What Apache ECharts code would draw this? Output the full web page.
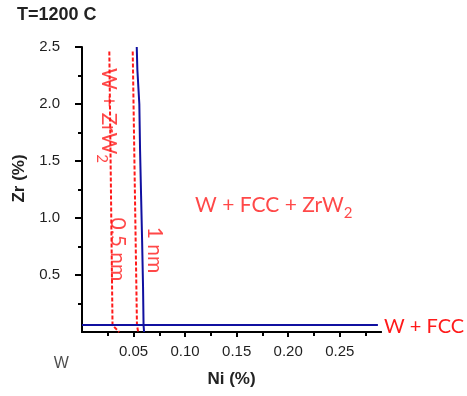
<!DOCTYPE html>
<html><head><meta charset="utf-8">
<script src="https://cdn.jsdelivr.net/npm/echarts@6/dist/echarts.min.js"></script>
<style>html,body{margin:0;padding:0;background:#fff}#c{width:467px;height:396px}</style>
</head><body><div id="c"></div>
<script>
// Tick labels
const xTickValues = [0.05, 0.10, 0.15, 0.20, 0.25];
const yTickValues = [0.5, 1.0, 1.5, 2.0, 2.5];
// Phase boundaries [Ni %, Zr %]
const boundary1nm = [[0.0531,2.5],[0.0537,2.3],[0.0556,2.0],[0.0563,1.6],[0.0573,1.2],[0.0583,0.8],[0.0592,0.4],[0.0597,0.06],[0.0602,0]];
const boundaryFCC = [[0,0.061],[0.287,0.061]];
const boundaryZrW2 = [[0.0265,2.46],[0.0296,0.06],[0.036,0]];
const boundary05nm = [[0.0492,2.46],[0.0533,0.06],[0.0545,0]];
// Annotation texts and anchor points (data coordinates)
const annoTexts = ['{a|W + ZrW}{s|2}', '{a|0.5 nm}', '{a|1 nm}', '{a|W + FCC + ZrW}{s|2}'];
const annoPoints = [[0.0262,1.90],[0.0345,0.724],[0.0709,0.719],[0.186,1.11]];
const annoRotate = [-90,-90,-90,0];
const originLabel = 'W';
const originPoint = [-0.02,-0.276];

const RED = '#ff1a1a', BLUE = '#1010a0', AX = '#000';
const rich = {
  a:{fontFamily:'Lato',fontSize:21,color:RED,lineHeight:30,verticalAlign:'middle'},
  s:{fontFamily:'Lato',fontSize:15,color:RED,lineHeight:30,verticalAlign:'bottom'}
};
const chart = echarts.init(document.getElementById('c'));
const lineS = (data, color, dashed) => ({
  type:'line', data, symbol:'none', silent:true, clip:false,
  lineStyle:{color, width:2, type: dashed ? [4,2] : 'solid'}
});
chart.setOption({
  animation:false,
  title:{text:'T=1200 C',left:17,top:6,padding:0,
    textStyle:{fontFamily:'Liberation Sans',fontSize:18,fontWeight:'bold',color:'#222'}},
  grid:{left:82,right:86,top:47,bottom:64},
  xAxis:[{
    type:'value',min:0,max:0.29,interval:0.05,
    name:'Ni (%)',nameLocation:'middle',nameGap:39,
    nameTextStyle:{fontFamily:'Liberation Sans',fontSize:17,fontWeight:'bold',color:'#222'},
    axisLine:{show:true,onZero:false,lineStyle:{color:AX,width:2}},
    axisTick:{show:true,length:5,lineStyle:{color:AX,width:2},customValues:xTickValues},
    minorTick:{show:true,splitNumber:2,length:4,lineStyle:{color:AX,width:2}},
    axisLabel:{customValues:xTickValues,margin:12,fontFamily:'Liberation Sans',fontSize:15,color:'#1f1f1f',
      formatter:v=>v.toFixed(2)},
    splitLine:{show:false}
  },{
    type:'value',position:'top',min:0,max:0.29,
    axisLine:{show:true,lineStyle:{color:AX,width:2}},
    axisTick:{show:false},axisLabel:{show:false},splitLine:{show:false}
  }],
  yAxis:{
    type:'value',min:0,max:2.5,interval:0.5,
    name:'Zr (%)',nameLocation:'middle',nameGap:53,
    nameTextStyle:{fontFamily:'Liberation Sans',fontSize:17,fontWeight:'bold',color:'#222',padding:[0,0,0,22]},
    axisLine:{show:true,onZero:false,lineStyle:{color:AX,width:2}},
    axisTick:{show:true,length:7,lineStyle:{color:AX,width:2},customValues:yTickValues},
    minorTick:{show:true,splitNumber:2,length:4,lineStyle:{color:AX,width:2}},
    axisLabel:{customValues:yTickValues,margin:22,fontFamily:'Liberation Sans',fontSize:15,color:'#1f1f1f',
      formatter:v=>v.toFixed(1)},
    splitLine:{show:false}
  },
  series:[
    lineS(boundaryZrW2, RED, true),
    lineS(boundary05nm, RED, true),
    lineS(boundary1nm, BLUE, false),
    Object.assign(lineS(boundaryFCC, BLUE, false), {
      endLabel:{show:true,formatter:'W + FCC',distance:6,fontFamily:'Lato',fontSize:20,color:RED,offset:[0,2]}
    }),
    {
      type:'scatter',symbolSize:0,silent:true,clip:false,
      data: annoTexts.map((t,i)=>({name:t,value:annoPoints[i],
        label:{show:true,position:'inside',rotate:annoRotate[i],formatter:t,rich}}))
        .concat([{name:originLabel,value:originPoint,
          label:{show:true,position:'inside',formatter:originLabel,fontFamily:'Liberation Sans',fontSize:16,color:'#1f1f1f'}}])
    }
  ]
});
</script></body></html>
